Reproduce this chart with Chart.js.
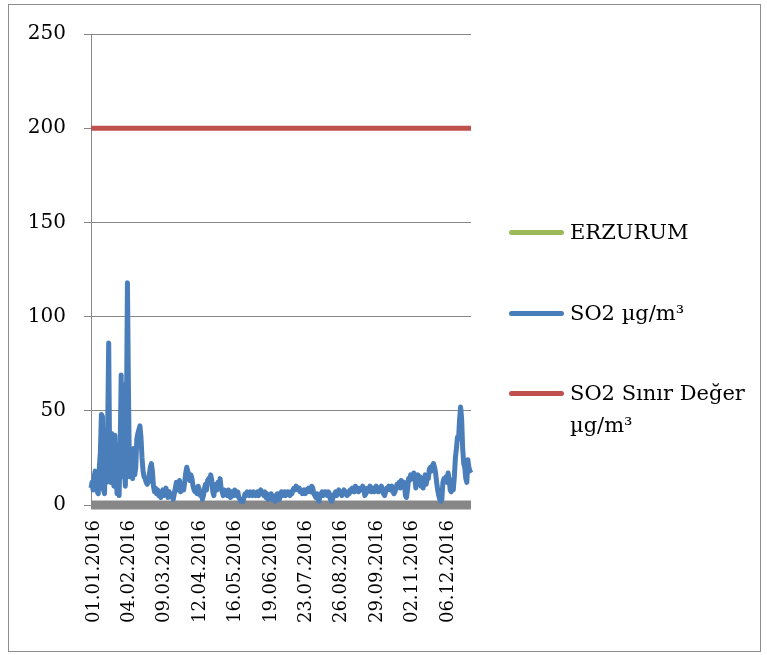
<!DOCTYPE html>
<html>
<head>
<meta charset="utf-8">
<script src="https://cdn.jsdelivr.net/npm/chart.js@4.4.0/dist/chart.umd.min.js"></script>
<style>
	body { margin: 0; background: #fff; }
	.frame {
		position: absolute; left: 8px; top: 4px;
		width: 751px; height: 646px;
		border: 1px solid #8c8c8c;
	}
	#so2-chart { position: absolute; left: 0; top: 0; }
	.legend { position: absolute; left: 509px; top: 0; font-family: "DejaVu Serif", serif; font-size: 21px; color: #000; }
	.legend-item { position: absolute; left: 0; white-space: nowrap; }
	.legend-line { position: absolute; left: 0; width: 55px; height: 5px; border-radius: 3px; }
	.legend-text { position: absolute; left: 61px; line-height: 32px; }
</style>
</head>
<body>
<div class="frame"></div>
<canvas id="so2-chart" width="767" height="655"></canvas>
<div class="legend" id="legend"></div>

<script>
// shown date ticks (every 34th day)
const tickLabels = ['01.01.2016', '04.02.2016', '09.03.2016', '12.04.2016', '16.05.2016', '19.06.2016',
	'23.07.2016', '26.08.2016', '29.09.2016', '02.11.2016', '06.12.2016'];

const seriesNames = ['ERZURUM', 'SO2 µg/m³', 'SO2 Sınır Değer µg/m³'];
const seriesColors = ['#9bbb59', '#4a7ebb', '#c0504d'];

// daily SO2, µg/m³
const so2 = [
	9, 12, 8, 15, 18, 17, 7, 6, 20, 28,
	48, 47, 8, 6, 30, 12, 40, 86, 20, 12,
	38, 35, 10, 37, 20, 6, 9, 5, 30, 69,
	15, 64, 20, 10, 45, 118, 60, 15, 18, 25,
	14, 30, 16, 20, 35, 38, 40, 42, 36, 25,
	18, 15, 14, 12, 11, 12, 16, 20, 22, 18,
	10, 7, 9, 6, 8, 5, 7, 4, 6, 8,
	5, 7, 9, 6, 4, 7, 5, 6, 4, 3,
	6, 9, 12, 8, 10, 13, 7, 9, 11, 8,
	12, 17, 20, 18, 15, 13, 16, 14, 10, 8,
	7, 9, 6, 10, 8, 5, 7, 3, 5, 9,
	11, 8, 13, 14, 12, 16, 13, 7, 5, 9,
	11, 8, 12, 10, 14, 9, 7, 5, 8, 6,
	7, 5, 8, 6, 4, 7, 6, 5, 8, 6,
	5, 7, 4, 3, 2, 3, 2, 4, 6, 5,
	7, 6, 5, 7, 6, 5, 7, 6, 5, 6,
	7, 5, 6, 8, 7, 6, 5, 7, 4, 6,
	3, 5, 4, 6, 3, 5, 4, 2, 4, 6,
	5, 3, 6, 7, 5, 6, 7, 5, 6, 7,
	6, 5, 7, 6, 8, 9, 8, 10, 9, 8,
	9, 7, 8, 6, 7, 8, 6, 8, 7, 9,
	8, 7, 10, 9, 6, 5, 4, 6, 3, 2,
	5, 6, 7, 5, 6, 7, 6, 5, 7, 6,
	3, 2, 3, 5, 6, 7, 5, 6, 8, 6,
	7, 5, 6, 8, 7, 6, 5, 7, 6, 8,
	7, 9, 8, 7, 10, 8, 9, 7, 8, 9,
	8, 10, 9, 5, 6, 7, 9, 8, 10, 7,
	8, 9, 7, 8, 10, 9, 7, 8, 9, 10,
	7, 6, 5, 7, 9, 8, 10, 9, 8, 10,
	7, 6, 7, 9, 11, 10, 12, 9, 13, 11,
	10, 12, 5, 4, 8, 14, 13, 16, 15, 14,
	17, 15, 9, 14, 16, 12, 15, 10, 14, 9,
	13, 16, 11, 15, 14, 19, 20, 18, 21, 22,
	20, 17, 12, 8, 5, 3, 2, 3, 12, 14,
	13, 15, 12, 17, 14, 8, 7, 9, 8, 15,
	25, 30, 36, 35, 45, 52, 46, 30, 22, 20,
	14, 12, 24, 20, 18, 17
];

const limitValue = 200;   // SO2 limit
const stationValue = 0;   // ERZURUM row

// one label per day of 2016
const days = [];
for (let d = new Date(Date.UTC(2016, 0, 1)); d.getUTCFullYear() === 2016; d.setUTCDate(d.getUTCDate() + 1)) {
	const dd = String(d.getUTCDate()).padStart(2, '0');
	const mm = String(d.getUTCMonth() + 1).padStart(2, '0');
	days.push(dd + '.' + mm + '.2016');
}

const serif = "'DejaVu Serif', serif";

new Chart(document.getElementById('so2-chart'), {
	type: 'line',
	data: {
		labels: days,
		datasets: [
			{
				label: seriesNames[0],
				data: days.map(() => stationValue),
				borderColor: '#878787',
				borderWidth: 9,
				order: 3
			},
			{
				label: seriesNames[1],
				data: so2,
				borderColor: seriesColors[1],
				borderWidth: 5,
				borderJoinStyle: 'round',
				order: 1
			},
			{
				label: seriesNames[2],
				data: days.map(() => limitValue),
				borderColor: seriesColors[2],
				borderWidth: 5,
				order: 2
			}
		]
	},
	options: {
		responsive: false,
		animation: false,
		devicePixelRatio: 1,
		layout: { padding: { left: 0, top: 34, right: 296, bottom: 0 } },
		elements: { point: { radius: 0 }, line: { tension: 0, borderCapStyle: 'butt' } },
		datasets: { line: { clip: false } },
		plugins: { legend: { display: false }, tooltip: { enabled: false } },
		scales: {
			x: {
				grid: { display: false },
				border: { display: false },
				ticks: {
					autoSkip: false,
					minRotation: 90,
					maxRotation: 90,
					padding: 7,
					labelOffset: 3,
					color: '#000',
					font: { family: serif, size: 18 },
					callback: function(value, index) {
						const lab = this.getLabelForValue(value);
						return tickLabels.includes(lab) ? lab : null;
					}
				},
				afterFit: s => { s.height = 150; s.paddingLeft = 0; s.paddingRight = 0; }
			},
			y: {
				min: 0,
				max: 250,
				grid: { color: '#878787', lineWidth: 1, tickLength: 7 },
				border: { color: '#878787', width: 1 },
				ticks: {
					stepSize: 50,
					padding: 18,
					color: '#000',
					font: { family: serif, size: 20 }
				},
				afterFit: s => { s.width = 91; s.paddingTop = 0; s.paddingBottom = 0; }
			}
		}
	}
});

// legend on the right, drawn as html
const legendRows = [
	{ y: 232, text: seriesNames[0], color: seriesColors[0] },
	{ y: 313, text: 'SO2 µg/m³', color: seriesColors[1] },
	{ y: 393, text: 'SO2 Sınır Değer<br>µg/m³', color: seriesColors[2] }
];
const legend = document.getElementById('legend');
legendRows.forEach(r => {
	legend.insertAdjacentHTML('beforeend',
		`<div class="legend-item" style="top:${r.y}px">
			<div class="legend-line" style="top:-2px;background:${r.color}"></div>
			<div class="legend-text" style="top:-16px">${r.text}</div>
		</div>`);
});
</script>
</body>
</html>
